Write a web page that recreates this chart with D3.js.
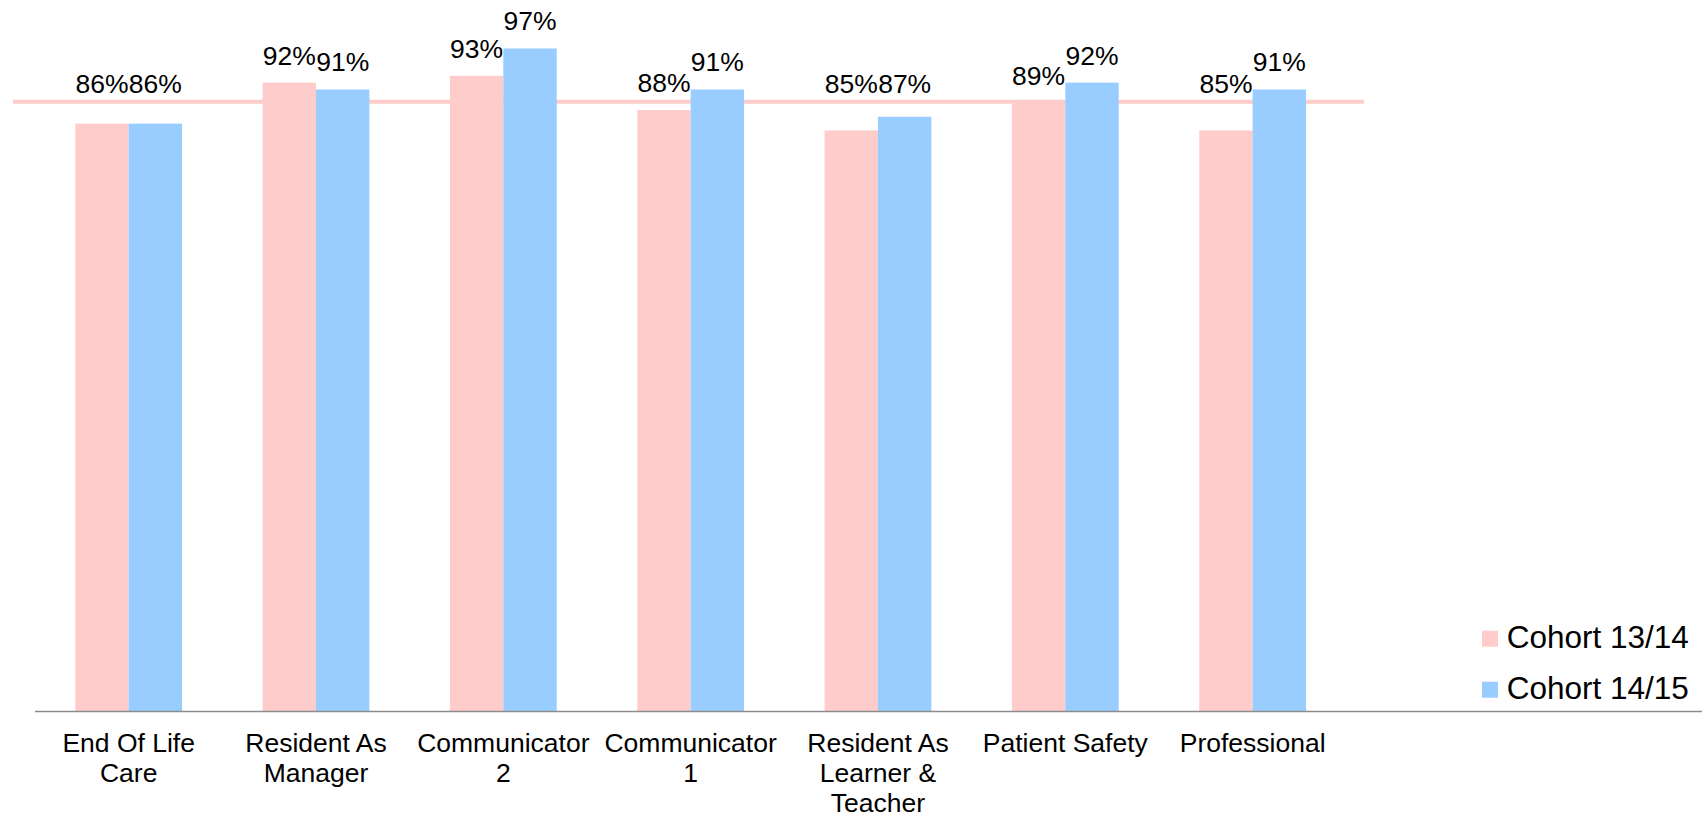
<!DOCTYPE html>
<html>
<head>
<meta charset="utf-8">
<script src="https://cdn.jsdelivr.net/npm/d3@7"></script>
<style>
  html, body { margin: 0; padding: 0; background: #fff; }
  svg { display: block; }
  text { font-family: "Liberation Sans", Arial, sans-serif; fill: #000; }
</style>
</head>
<body>
<svg id="chart" width="1702" height="816"></svg>
<script>
// ---- data ----
const categories = ["End Of Life Care", "Resident As Manager", "Communicator 2", "Communicator 1",
                    "Resident As Learner & Teacher", "Patient Safety", "Professional"];
const seriesNames = ["Cohort 13/14", "Cohort 14/15"];
const cohort1314 = [86, 92, 93, 88, 85, 89, 85];
const cohort1415 = [86, 91, 97, 91, 87, 92, 91];
const targetLine = [89.2, 89.2];
const colors = ["#FFCCCC", "#99CCFF"];

// ---- layout ----
const W = 1702, H = 816;
const baseY = 711, topY = 28;
const svg = d3.select("#chart");

const x = d3.scaleBand().domain(categories).range([35, 1346.3]).paddingInner(0.43).paddingOuter(0.215);
const xs = d3.scaleBand().domain(seriesNames).range([0, x.bandwidth()]);
const y = d3.scaleLinear().domain([0, 100]).range([baseY, topY]);
const xLine = d3.scaleLinear().domain([0, 1]).range([13, 1364]);

// target line (behind bars)
svg.append("path")
  .datum(targetLine)
  .attr("d", d3.line().x((d, i) => xLine(i)).y(d => y(d)))
  .attr("fill", "none")
  .attr("stroke", colors[0])
  .attr("stroke-width", 4);

const series = [cohort1314, cohort1415];
const rows = [];
series.forEach((vals, si) => vals.forEach((v, ci) => rows.push({ s: seriesNames[si], si, c: categories[ci], v })));

// bars
svg.append("g").selectAll("rect").data(rows).join("rect")
  .attr("x", d => x(d.c) + xs(d.s))
  .attr("y", d => y(d.v))
  .attr("width", xs.bandwidth())
  .attr("height", d => baseY - y(d.v))
  .attr("fill", d => colors[d.si]);

// value labels
const lineY = y(targetLine[0]);
svg.append("g").selectAll("text").data(rows).join("text")
  .attr("x", d => x(d.c) + xs(d.s) + xs.bandwidth() / 2)
  .attr("y", d => Math.min(y(d.v) - 18, lineY - 8.3))
  .attr("text-anchor", "middle")
  .attr("font-size", 26.5)
  .text(d => d.v + "%");

// axis line
svg.append("line")
  .attr("x1", 35).attr("x2", W)
  .attr("y1", baseY + 0.5).attr("y2", baseY + 0.5)
  .attr("stroke", "#8c8c8c").attr("stroke-width", 1.5);

// category labels with wrapping
const catG = svg.append("g");
const maxW = 182;
categories.forEach(c => {
  const t = catG.append("text")
    .attr("x", x(c) + x.bandwidth() / 2)
    .attr("y", baseY + 40.7)
    .attr("text-anchor", "middle")
    .attr("font-size", 26.5);
  const words = c.split(" ");
  let line = [], lineNo = 0;
  let tspan = t.append("tspan").attr("x", x(c) + x.bandwidth() / 2).attr("dy", 0);
  words.forEach(w => {
    line.push(w);
    tspan.text(line.join(" "));
    if (tspan.node().getComputedTextLength() > maxW && line.length > 1) {
      line.pop();
      tspan.text(line.join(" "));
      line = [w];
      lineNo++;
      tspan = t.append("tspan").attr("x", x(c) + x.bandwidth() / 2).attr("dy", 30).text(w);
    }
  });
});

// legend
const leg = svg.append("g");
seriesNames.forEach((n, i) => {
  leg.append("rect")
    .attr("x", 1482).attr("y", 630.7 + i * 51)
    .attr("width", 16).attr("height", 16)
    .attr("fill", colors[i]);
  leg.append("text")
    .attr("x", 1506.7).attr("y", 648.3 + i * 51)
    .attr("font-size", 31.5)
    .text(n);
});
</script>
</body>
</html>
